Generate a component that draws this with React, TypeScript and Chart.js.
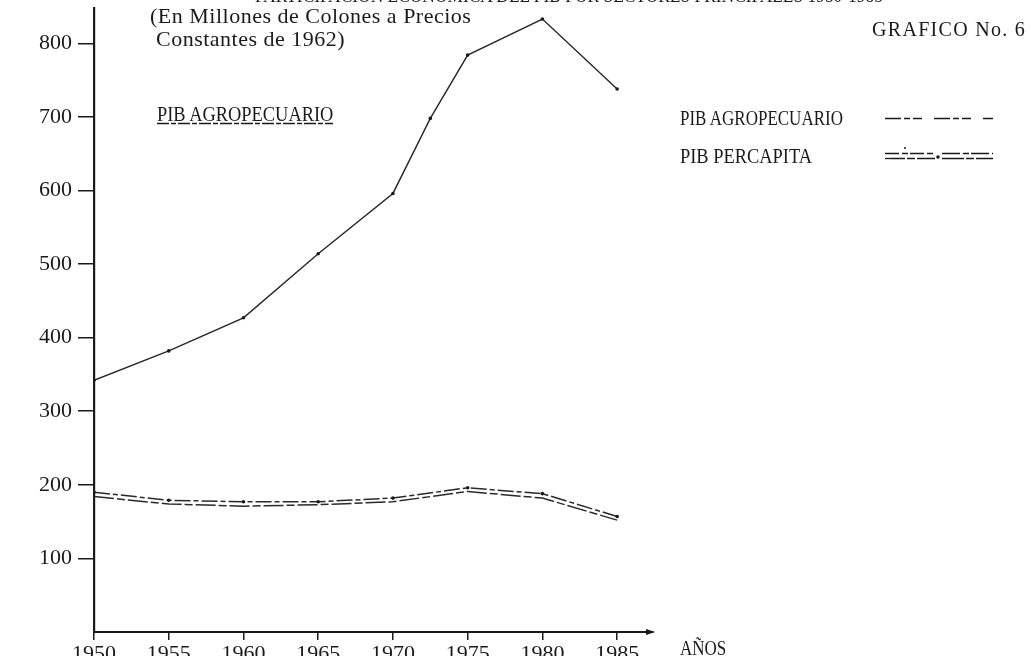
import React, { useEffect, useRef } from "react";
import { Chart, registerables } from "chart.js";

Chart.register(...registerables);

const years = [1950, 1955, 1960, 1965, 1970, 1972.5, 1975, 1980, 1985];
const pibAgropecuario = [342, 382, 427, 514, 596, 698, 784, 833, 738];
const pibPercapitaA = [190, 179, 177, 177, 182, null, 196, 188, 157];
const pibPercapitaB = [184, 174, 171, 173, 177, null, 191, 182, 152];
const xTickYears = [1950, 1955, 1960, 1965, 1970, 1975, 1980, 1985];
const yTickValues = [100, 200, 300, 400, 500, 600, 700, 800];

const FONT = "'Liberation Serif', 'DejaVu Serif', serif";
const INK = "#1a1a1a";

const toPoints = (vals: (number | null)[]) =>
  years.map((x, i) => ({ x, y: vals[i] }));

const arrowPlugin = {
  id: "axisArrow",
  afterDraw(chart: any) {
    const { ctx, chartArea } = chart;
    const x = chartArea.right;
    const y = chartArea.bottom;
    ctx.save();
    ctx.fillStyle = INK;
    ctx.beginPath();
    ctx.moveTo(x + 2, y);
    ctx.lineTo(x - 7, y - 3);
    ctx.lineTo(x - 7, y + 3);
    ctx.closePath();
    ctx.fill();
    ctx.restore();
  },
};

export default function App() {
  const ref = useRef<HTMLCanvasElement | null>(null);

  useEffect(() => {
    if (!ref.current) return;
    const chart = new Chart(ref.current, {
      type: "line",
      data: {
        datasets: [
          {
            label: "PIB AGROPECUARIO",
            data: toPoints(pibAgropecuario),
            borderColor: "#262626",
            borderWidth: 1.4,
            pointRadius: 1.8,
            pointBackgroundColor: INK,
            pointBorderWidth: 0,
            tension: 0,
          },
          {
            label: "PIB PERCAPITA",
            data: toPoints(pibPercapitaA),
            borderColor: "#2a2a2a",
            borderWidth: 1.5,
            borderDash: [16, 3, 5, 3],
            pointRadius: 1.8,
            pointBackgroundColor: INK,
            pointBorderWidth: 0,
            spanGaps: true,
            tension: 0,
          },
          {
            label: "PIB PERCAPITA (2)",
            data: toPoints(pibPercapitaB),
            borderColor: "#2a2a2a",
            borderWidth: 1.5,
            borderDash: [20, 3, 8, 3],
            pointRadius: 0,
            spanGaps: true,
            tension: 0,
          },
        ],
      },
      options: {
        animation: false,
        responsive: false,
        devicePixelRatio: 1,
        layout: { padding: { top: 8, right: 378, bottom: 0, left: 0 } },
        plugins: {
          legend: { display: false },
          tooltip: { enabled: false },
          title: { display: false },
        },
        scales: {
          x: {
            type: "linear",
            min: 1950,
            max: 1987.4,
            afterFit(scale: any) {
              scale.height = 24;
              scale.paddingLeft = 0;
              scale.paddingRight = 0;
            },
            afterBuildTicks(scale: any) {
              scale.ticks = xTickYears.map((v) => ({ value: v }));
            },
            ticks: {
              callback: (v: any) => String(v),
              color: INK,
              font: { family: FONT, size: 22 },
              padding: 1,
              autoSkip: false,
              maxRotation: 0,
            },
            grid: {
              drawOnChartArea: false,
              drawTicks: true,
              tickLength: 8,
              color: INK,
              lineWidth: 1.5,
            },
            border: { display: true, color: INK, width: 2 },
          },
          y: {
            min: 0,
            max: 848,
            afterFit(scale: any) {
              scale.width = 94;
              scale.paddingTop = 0;
              scale.paddingBottom = 0;
            },
            afterBuildTicks(scale: any) {
              scale.ticks = yTickValues.map((v) => ({ value: v }));
            },
            ticks: {
              callback: (v: any) => String(v),
              color: INK,
              font: { family: FONT, size: 22 },
              padding: 6,
            },
            grid: {
              drawOnChartArea: false,
              drawTicks: true,
              tickLength: 16,
              color: INK,
              lineWidth: 1.5,
            },
            border: { display: true, color: INK, width: 2.2 },
          },
        },
      },
      plugins: [arrowPlugin],
    });
    return () => chart.destroy();
  }, []);

  const txt = (extra: React.CSSProperties): React.CSSProperties => ({
    position: "absolute",
    fontFamily: FONT,
    color: INK,
    whiteSpace: "nowrap",
    lineHeight: 1,
    transformOrigin: "left top",
    ...extra,
  });

  return (
    <div
      style={{
        position: "fixed",
        left: 0,
        top: 0,
        width: 1031,
        height: 656,
        overflow: "hidden",
        background: "#fff",
      }}
    >
      <canvas ref={ref} width={1031} height={656} style={{ position: "absolute", left: 0, top: 0 }} />
      <div style={txt({ left: 255, top: -15, fontSize: 20, transform: "scaleX(0.87)" })}>
        PARTICIPACION ECONOMICA DEL PIB POR SECTORES PRINCIPALES 1950-1985
      </div>
      <div style={txt({ left: 150, top: 5, fontSize: 22, letterSpacing: 0.5 })}>
        (En Millones de Colones a Precios
      </div>
      <div style={txt({ left: 156, top: 28, fontSize: 22, letterSpacing: 0.5 })}>
        Constantes de 1962)
      </div>
      <div style={txt({ left: 872, top: 19, fontSize: 20, letterSpacing: 1.3 })}>
        GRAFICO No. 6
      </div>
      <div style={txt({ left: 157, top: 104, fontSize: 20, transform: "scaleX(0.92)" })}>
        PIB AGROPECUARIO
      </div>
      <svg style={{ position: "absolute", left: 0, top: 0 }} width={1031} height={656}>
        <line x1={157} y1={123.5} x2={333} y2={123.5} stroke={INK} strokeWidth={1.3} strokeDasharray="12 2 5 2" />
        <line x1={885} y1={118.5} x2={993} y2={118.5} stroke={INK} strokeWidth={1.3} strokeDasharray="16 3 6 3 9 12" />
        <line x1={885} y1={153.5} x2={935} y2={153.5} stroke={INK} strokeWidth={1.3} strokeDasharray="14 3 6 2" />
        <line x1={885} y1={158.5} x2={935} y2={158.5} stroke={INK} strokeWidth={1.3} strokeDasharray="20 2 8 2" />
        <line x1={942} y1={153.5} x2={993} y2={153.5} stroke={INK} strokeWidth={1.3} strokeDasharray="18 3 6 2" />
        <line x1={942} y1={158.5} x2={993} y2={158.5} stroke={INK} strokeWidth={1.3} strokeDasharray="22 2 8 2" />
        <circle cx={938} cy={157} r={1.8} fill={INK} />
        <circle cx={905} cy={148} r={1} fill={INK} />
      </svg>
      <div style={txt({ left: 680, top: 108, fontSize: 20, transform: "scaleX(0.85)" })}>
        PIB AGROPECUARIO
      </div>
      <div style={txt({ left: 680, top: 146, fontSize: 20, transform: "scaleX(0.92)" })}>
        PIB PERCAPITA
      </div>
      <div style={txt({ left: 680, top: 638, fontSize: 20, transform: "scaleX(0.85)" })}>
        AÑOS
      </div>
    </div>
  );
}
